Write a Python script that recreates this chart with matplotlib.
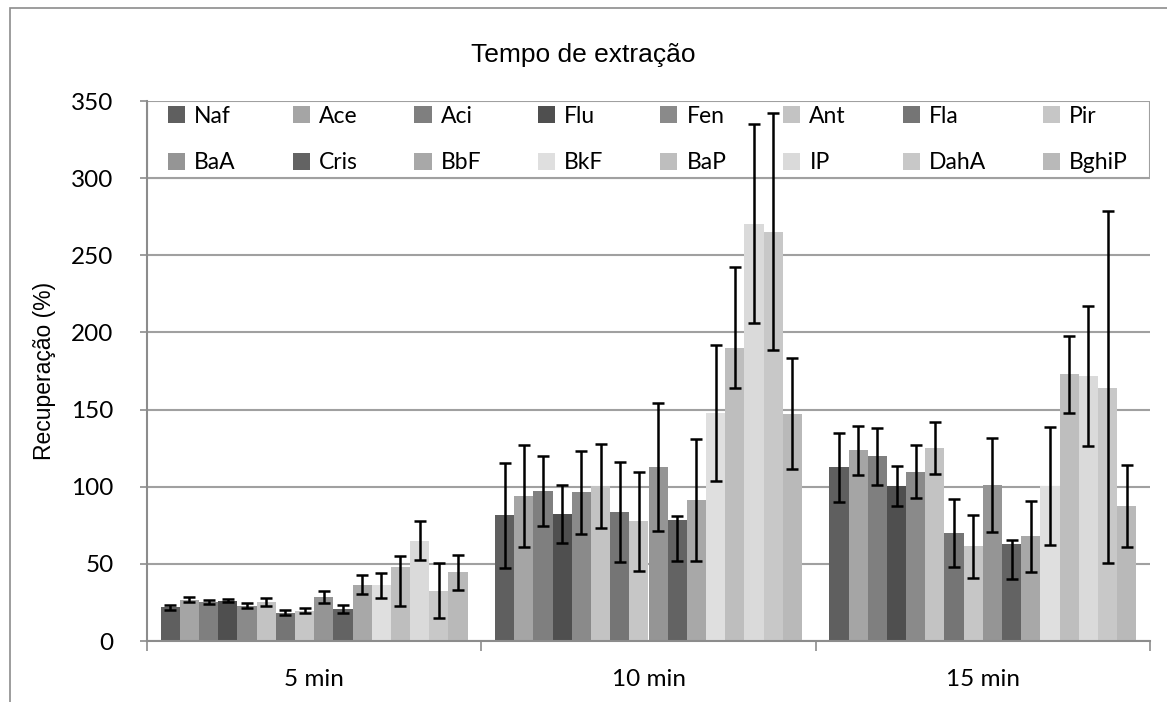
import matplotlib
matplotlib.use("Agg")
import matplotlib.pyplot as plt
import numpy as np
from matplotlib.patches import Patch, Rectangle

categories = ["5 min", "10 min", "15 min"]
compounds = ["Naf", "Ace", "Aci", "Flu", "Fen", "Ant", "Fla", "Pir",
             "BaA", "Cris", "BbF", "BkF", "BaP", "IP", "DahA", "BghiP"]
colors = ["#5f5f5f", "#a5a5a5", "#7f7f7f", "#4f4f4f", "#8a8a8a", "#c3c3c3", "#757575", "#c6c6c6",
          "#959595", "#636363", "#a8a8a8", "#dfdfdf", "#bebebe", "#dadada", "#c8c8c8", "#b9b9b9"]

vals_5 = [21.8, 26.8, 25.3, 26.2, 22.9, 25.3, 18.2, 19.7, 28.6, 20.8, 36.6, 36.6, 48.2, 64.9, 32.5, 44.4]
lo_5 = [1.5, 1.6, 1.0, 0.8, 1.5, 2.4, 1.6, 1.5, 3.7, 2.8, 6.3, 9.0, 25.2, 12.4, 17.6, 11.3]
hi_5 = [1.3, 1.6, 1.0, 0.8, 1.5, 2.4, 1.6, 1.5, 3.7, 2.8, 6.3, 7.3, 6.8, 12.9, 18.1, 11.1]

vals_10 = [81.4, 93.7, 97.2, 82.3, 96.3, 100.2, 83.5, 77.7, 112.6, 78.6, 91.6, 147.6, 189.6, 270.6, 265.2, 147.3]
lo_10 = [34.0, 32.7, 22.8, 18.5, 27.0, 26.8, 32.2, 32.5, 41.6, 26.6, 39.6, 44.2, 25.3, 64.5, 76.5, 36.0]
hi_10 = [34.0, 33.3, 22.8, 18.5, 27.0, 27.2, 32.5, 32.0, 41.6, 2.5, 39.4, 44.3, 52.6, 64.5, 76.8, 36.0]

vals_15 = [112.7, 123.5, 119.9, 100.2, 109.7, 125.0, 70.3, 61.7, 101.0, 62.7, 67.9, 100.4, 172.9, 171.6, 163.8, 87.7]
lo_15 = [22.5, 16.0, 18.7, 13.0, 17.1, 16.6, 22.1, 20.6, 30.5, 22.2, 23.1, 38.1, 25.3, 45.4, 113.5, 26.6]
hi_15 = [22.3, 15.8, 17.9, 13.2, 17.6, 17.2, 21.6, 19.7, 30.6, 2.9, 22.7, 38.3, 24.9, 45.7, 114.6, 26.6]

yticks = [0, 50, 100, 150, 200, 250, 300, 350]

vals = np.array([vals_5, vals_10, vals_15])
lo = np.array([lo_5, lo_10, lo_15])
hi = np.array([hi_5, hi_10, hi_15])

W, H = 1167, 702
fig = plt.figure(figsize=(W/100, H/100), dpi=100)
ax = fig.add_axes([147/W, 61/H, (1150-147)/W, (641-101)/H])

# outer chart border
fig.add_artist(Rectangle((10/W, -0.1), 1.2, (H-8)/H + 0.1, transform=fig.transFigure,
                         fill=False, edgecolor="#8c8c8c", linewidth=1.2))

ncomp = len(compounds)
group_w = 0.918
bw = group_w / ncomp
x = np.arange(len(categories))
for i in range(ncomp):
    pos = x - group_w/2 + bw*(i + 0.5)
    ax.bar(pos, vals[:, i], width=bw, color=colors[i], zorder=2, linewidth=0)
    ax.errorbar(pos, vals[:, i], yerr=[lo[:, i], hi[:, i]], fmt="none", ecolor="black",
                elinewidth=1.8, capsize=4.5, capthick=1.8, zorder=3)

ax.set_xlim(-0.5, 2.5)
ax.set_ylim(0, 350)
ax.set_yticks(yticks)
ax.yaxis.grid(True, color="#a0a0a0", linewidth=1.5, zorder=0)
ax.set_axisbelow(True)
ax.set_xticks([-0.5, 0.5, 1.5, 2.5])
ax.set_xticklabels([])
ax.set_xticks(x, minor=True)
ax.set_xticklabels(categories, minor=True, fontsize=17.5, family="Lato")
ax.tick_params(axis="x", which="minor", length=0, pad=20)
ax.tick_params(axis="x", which="major", length=7, width=1.2, color="#8c8c8c")
ax.tick_params(axis="y", length=5, width=1.2, color="#8c8c8c", labelsize=17.5, pad=19)
for lab in ax.get_yticklabels():
    lab.set_family("Lato")
for s in ["top", "right"]:
    ax.spines[s].set_visible(False)
for s in ["left", "bottom"]:
    ax.spines[s].set_color("#8c8c8c")
    ax.spines[s].set_linewidth(1.5)
    ax.spines[s].set_zorder(4)

ax.set_ylabel("Recuperação (%)", fontsize=16.5, family="Liberation Sans")
ax.yaxis.set_label_coords((56-147)/(1150-147), 0.5)
fig.text(583/W, 1 - 55/H, "Tempo de extração", ha="center", va="center",
         fontsize=19, family="Liberation Sans")

# legend background box spanning the top of the plot
ax.add_patch(Rectangle((0, 300/350), 1, 50/350, transform=ax.transAxes, facecolor="white",
                       edgecolor="#a0a0a0", linewidth=1.5, zorder=1))

handles = [Patch(facecolor=c, edgecolor="none") for c in colors]
order = []
for c in range(8):
    order += [c, c + 8]
x0 = (168-147)/1003
x1 = (1128-147)/1003
leg = ax.legend([handles[k] for k in order], [compounds[k] for k in order], ncol=8,
                loc="center", bbox_to_anchor=(x0, 300/350, x1 - x0, 50/350), mode="expand",
                frameon=False, prop={"family": "Lato", "size": 16.5}, handlelength=0.75,
                handleheight=0.75, handletextpad=0.4, borderaxespad=0, labelspacing=1.12,
                borderpad=0.0)
leg.set_zorder(1.5)

fig.savefig("out.png", dpi=100)
